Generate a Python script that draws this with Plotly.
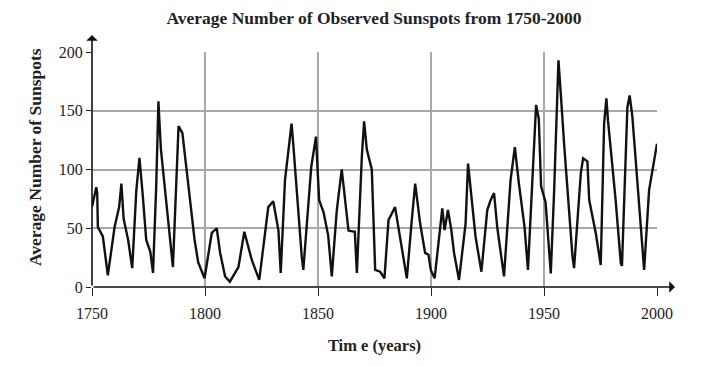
import plotly.graph_objects as go

years = [1750, 1751.9, 1752.3, 1752.6, 1754.8, 1757, 1760, 1762, 1763, 1764, 1766, 1767.8,
         1769.6, 1771, 1772.5, 1774, 1775.8, 1777, 1778.4, 1779.4, 1779.8, 1780.5, 1785.8,
         1787.3, 1788.3, 1790, 1792.4, 1795.4, 1797, 1799.8, 1803, 1805.2, 1806.7, 1808.9,
         1811, 1814.8, 1817.4, 1820.7, 1824, 1828, 1830.2, 1832.5, 1833.5, 1835.4, 1838.3,
         1839, 1842.8, 1843.5, 1847, 1849.1, 1850.5, 1852.4, 1854.5, 1856.1, 1858.3, 1860.5,
         1862, 1863.5, 1866.3, 1867.2, 1869.4, 1870.4, 1871.6, 1873.8, 1875.3, 1877.5, 1879.4,
         1881.2, 1884.1, 1887, 1889.3, 1891.5, 1893, 1895.2, 1897.4, 1898.9, 1899.9, 1901.6,
         1905, 1906, 1907.5, 1909, 1910.2, 1912.4, 1915.3, 1916.4, 1917.5, 1919.7, 1922.3,
         1924.9, 1926.4, 1927.9, 1929.3, 1932.3, 1935.2, 1937.1, 1938.9, 1941.4, 1942.9,
         1945.5, 1946.5, 1947.7, 1948.7, 1950.7, 1952.3, 1953, 1954.5, 1955.8, 1956.4, 1957.3,
         1959, 1962.6, 1963.3, 1966.3, 1967.3, 1969.2, 1970, 1972.9, 1975.1, 1976.6, 1977.6,
         1978.3, 1981.7, 1984, 1984.5, 1986.9, 1987.9, 1989.1, 1993.5, 1994.3, 1996.5, 2000]
sunspots = [68, 85, 80, 51, 43, 10, 51, 68, 88, 58, 40, 16,
            82, 110, 77, 40, 30, 12, 85, 158, 142, 117, 17,
            97, 137, 131, 88, 40, 21, 7.5, 46, 50, 29, 9,
            4.5, 17, 47, 23, 6, 68, 73, 48, 12, 91, 139,
            123, 26, 14.5, 102, 128, 74, 64, 44, 9, 65, 100,
            74, 48, 47, 12, 111, 141, 117, 100, 14.5, 13, 7.4,
            57, 68, 34, 7.4, 57, 88, 54, 29, 27.5, 14.5, 7.4,
            67, 48.5, 65.5, 48.5, 29, 6, 54, 105, 85, 43, 13,
            65.5, 74, 80, 51, 9, 91, 119, 88, 51, 14.5,
            111, 155, 143, 86, 72, 30, 11.6, 82.5, 168, 193, 168,
            119, 26, 16, 97, 109.5, 107, 74, 46, 18.7, 139, 160.6,
            142, 74, 20, 18, 153, 163, 145, 34, 14.5, 82.5, 122]

x_ticks = [1750, 1800, 1850, 1900, 1950, 2000]
y_ticks = [0, 50, 100, 150, 200]

title_text = "Average Number of Observed Sunspots from 1750-2000"
x_title = "Tim e (years)"
y_title = "Average Number of Sunspots"

serif = "Liberation Serif, Times New Roman, serif"

fig = go.Figure()
fig.add_trace(go.Scatter(x=years, y=sunspots, mode="lines",
                         line=dict(color="#111111", width=2.4), showlegend=False,
                         hoverinfo="skip"))

# the page body has an 8px margin, so the figure is sized/offset to compensate
OFF = 8
W, H = 714 - OFF, 366 - OFF
L, T = 92 - OFF, 52 - OFF
R = 714 - 657
B = 366 - 287
pw = W - L - R
ph = H - T - B

fig.update_layout(
    width=W, height=H,
    margin=dict(l=L, r=R, t=T, b=B, pad=0, autoexpand=False),
    paper_bgcolor="white", plot_bgcolor="white",
    font=dict(family=serif, size=15, color="#222222"),
    title=dict(text="<b>" + title_text + "</b>", x=(374 - OFF) / W, xanchor="center",
               y=1 - (18 - OFF) / H, yanchor="middle",
               font=dict(family=serif, size=17.5, color="#222222")),
    xaxis=dict(range=[1750, 2000], tickvals=x_ticks, ticktext=[str(v) for v in x_ticks],
               showgrid=True, gridcolor="#a8a8a8", gridwidth=1.5, zeroline=False,
               showline=False, ticks="outside", ticklen=8, tickwidth=1.2, tickcolor="#222222",
               ticklabelstandoff=4,
               tickfont=dict(family=serif, size=16, color="#222222"),
               title=dict(text="<b>" + x_title + "</b>", standoff=18,
                          font=dict(family=serif, size=16.5, color="#222222"))),
    yaxis=dict(range=[0, 200], tickvals=y_ticks, ticktext=[str(v) for v in y_ticks],
               showgrid=True, gridcolor="#a8a8a8", gridwidth=1.5, zeroline=False,
               showline=False, ticks="outside", ticklen=5, tickwidth=1.2, tickcolor="#222222",
               tickfont=dict(family=serif, size=16, color="#222222")),
)

# y-axis title placed as rotated text
fig.add_annotation(xref="paper", yref="paper", x=(35 - 92) / pw, y=(287 - 157) / ph,
                   xanchor="center", yanchor="middle", textangle=-90, showarrow=False,
                   text="<b>" + y_title + "</b>",
                   font=dict(family=serif, size=17.5, color="#222222"))

# axis lines with arrowheads
fig.add_annotation(xref="paper", yref="paper", x=0, y=(287 - 35) / ph, ax=0, ay=(287 - 35),
                   axref="pixel", ayref="pixel", text="", showarrow=True,
                   arrowhead=1, arrowsize=1.2, arrowwidth=1.6, arrowcolor="#111111")
fig.add_annotation(xref="paper", yref="paper", x=(675 - 92) / pw, y=0, ax=-(675 - 92), ay=0,
                   axref="pixel", ayref="pixel", text="", showarrow=True,
                   arrowhead=1, arrowsize=1.2, arrowwidth=1.6, arrowcolor="#111111")

fig.write_html("out.html")
